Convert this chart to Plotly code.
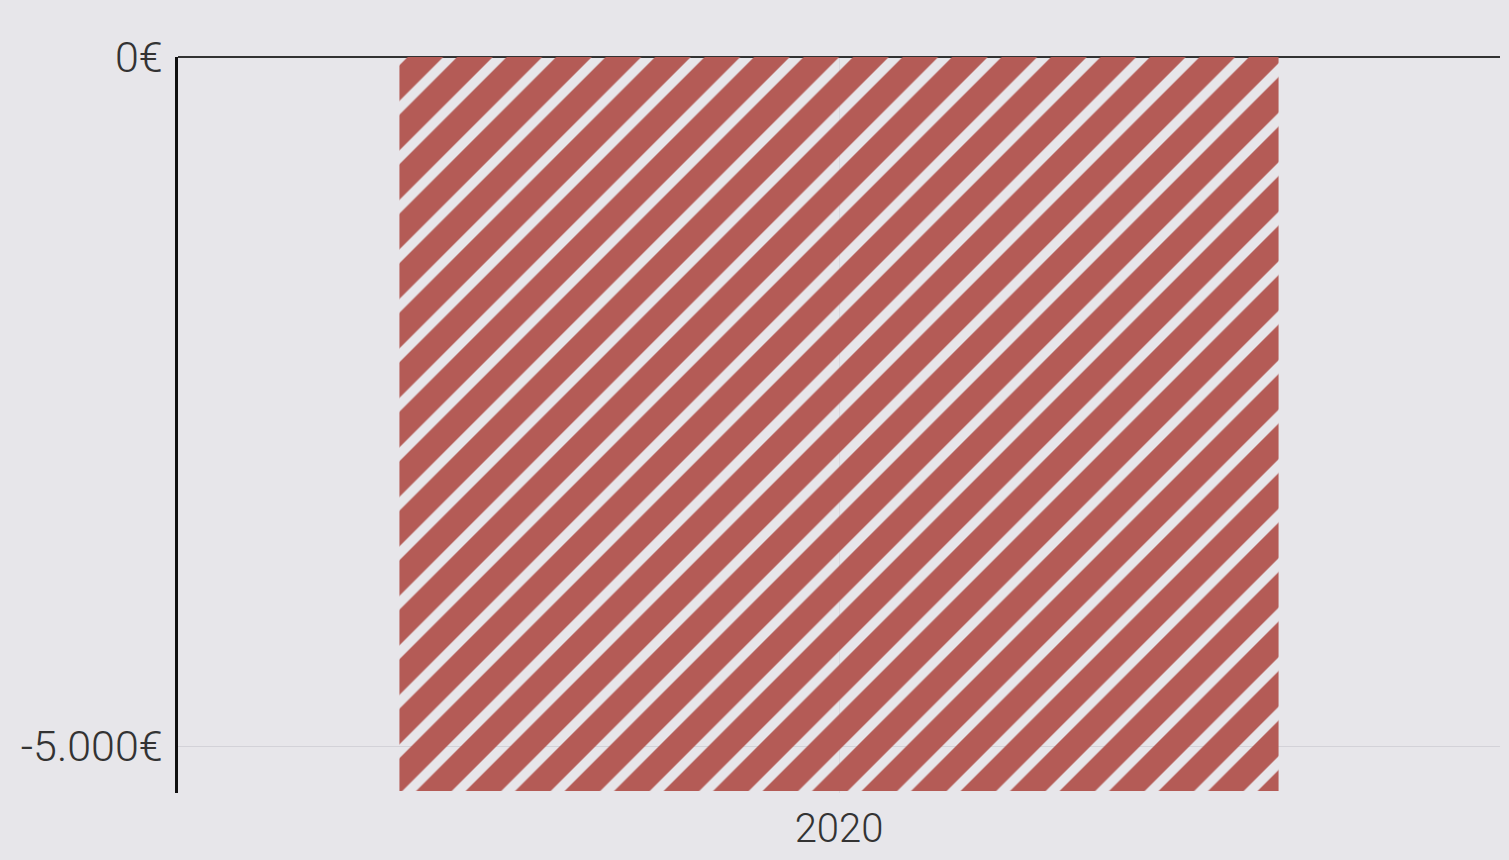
import plotly.graph_objects as go

years = ["2020"]
values = [-5327]
tick_vals = [0, -5000]
tick_text = ["0€", "-5.000€"]

BG = "#e7e6ea"
RED = "#b45b56"

fig = go.Figure(go.Bar(
    x=years, y=values,
    marker=dict(
        color=RED, line=dict(width=0),
        pattern=dict(shape="/", fillmode="replace", fgcolor=RED,
                     bgcolor="rgba(0,0,0,0)", size=35, solidity=0.72),
    ),
    hoverinfo="skip",
))

fig.update_layout(
    width=1509, height=860,
    margin=dict(l=178, r=9, t=57, b=67, autoexpand=False),
    paper_bgcolor=BG, plot_bgcolor=BG,
    bargap=0.335,
    showlegend=False,
    font=dict(family="Roboto", size=43, color="#333333", weight=300),
)
fig.update_xaxes(
    type="category", showgrid=True, gridcolor="#d9d8de", gridwidth=1,
    showline=False, ticks="", tickfont=dict(size=40), ticklabelstandoff=8,
    automargin=False,
)
fig.update_yaxes(
    range=[-5341, 0], tickvals=tick_vals, ticktext=tick_text,
    showgrid=True, gridcolor="#d3d2d8", gridwidth=1,
    zeroline=True, zerolinecolor="#333333", zerolinewidth=2,
    showline=True, linecolor="#111111", linewidth=2.5,
    ticks="", ticklabelstandoff=4, automargin=False,
)

fig.write_html(
    "out.html",
    config={"displayModeBar": False},
    post_script="document.body.style.margin='0';document.body.style.background='%s';" % BG,
)
